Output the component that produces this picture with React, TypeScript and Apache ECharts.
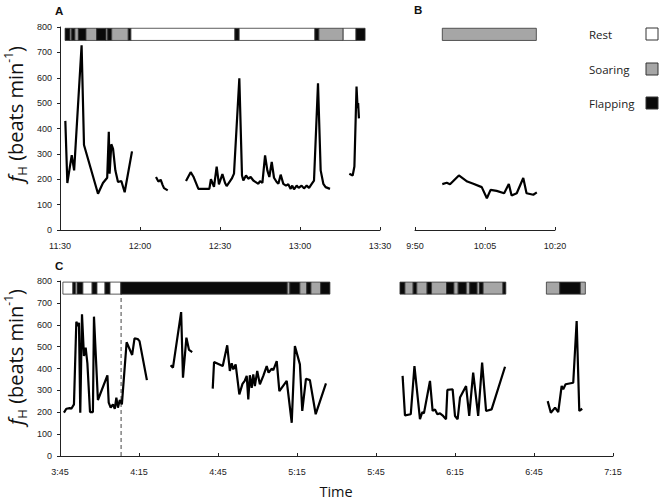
import React, { useEffect, useRef } from "react";
import * as echarts from "echarts";

// ---------- DATA ----------
// Times are minutes after the first tick of each panel; values in beats/min
const A_TICKS = ["11:30", "12:00", "12:30", "13:00", "13:30"];
const B_TICKS = ["9:50", "10:05", "10:20"];
const C_TICKS = ["3:45", "4:15", "4:45", "5:15", "5:45", "6:15", "6:45", "7:15"];
const Y_TICKS = [0, 100, 200, 300, 400, 500, 600, 700, 800];

const A_SEG1 = [[2.0,430],[2.75,185],[4.4,295],[5.3,235],[8.1,728],[9.0,335],[14.25,143],[16.1,185],[17.7,206],[18.3,387],[18.6,222],[19.25,338],[19.9,320],[20.75,235],[21.75,189],[23,193],[24.25,149],[27,310]];
const A_SEG2 = [[36,209],[36.9,191],[37.75,198],[38.5,177],[39,165],[40.4,156]];
const A_SEG3 = [[47.25,193],[49,228],[50,211],[51.9,162],[56,162],[56.6,200],[57.75,170],[58.75,250],[59.6,180],[60.9,220],[61.9,185],[62.5,173],[64.4,202],[65.25,222],[67.25,598],[68.25,215],[68.75,195],[69.75,215],[70.6,202],[71.5,209],[72.5,195],[74.4,182],[75,193],[75.9,186],[76.9,294],[77.75,235],[78.5,209],[79.4,268],[80.25,206],[81.25,189],[81.9,182],[82.75,218],[83.75,182],[84.75,175],[85.6,180],[86.5,162],[87.1,175],[87.75,160],[88.75,175],[89.5,166],[90.6,175],[91.5,164],[92.5,175],[93.4,166],[94.4,182],[95.25,195],[96.75,578],[97.75,235],[98.75,182],[99.6,169],[101.25,162]];
const A_SEG4 = [[108.5,222],[109.75,215],[110.4,250],[111.2,565],[111.6,480],[111.8,500],[112.1,440]];

const B_SEG1 = [[5.85,181],[6.8,186],[7.5,180],[9.4,215],[11.2,191],[12.5,182],[14.3,169],[15.4,125],[16.2,158],[17.5,154],[19.1,145],[20.1,181],[20.7,136],[21.8,145],[23.2,205],[23.9,145],[25.35,139],[26.1,148]];

const C_SEG1 = [[1.5,198],[2.4,216],[3.7,219],[4.3,216],[5.3,236],[6.2,614],[6.8,594],[7.2,609],[7.7,198],[8.35,648],[9.1,457],[9.75,495],[10.4,424],[11.4,201],[12.5,201],[12.9,637],[14.4,256],[18,369],[18.5,244],[19.25,221],[20.1,236],[20.8,216],[21.4,267],[22,221],[22.7,256],[23.5,236],[25.3,520],[27.4,462],[28.3,538],[29.5,535],[30.2,525],[33,347]];
const C_SEG2 = [[42,415],[42.9,404],[46,658],[46.7,358],[48,541],[49,485],[50.2,475]];
const C_SEG3 = [[58,308],[58.5,430],[61.8,411],[63.5,506],[64.5,389],[65.2,424],[65.8,396],[66.7,419],[68.1,282],[69.3,330],[70.2,345],[70.9,366],[71.5,259],[72.1,369],[72.8,312],[73.4,373],[74,320],[74.9,389],[75.9,328],[77.2,366],[78.5,411],[79.2,381],[80.4,399],[81,393],[82.3,434],[83.3,297],[86.1,343],[88,152],[89.2,503],[91.1,419],[92,206],[93.4,353],[94.9,347],[97.1,191],[101,332]];
const C_SEG4 = [[130.1,366],[131,186],[133.2,191],[134.6,411],[136.7,168],[137.6,201],[138.2,195],[140.5,343],[141.5,206],[142.4,213],[143.3,191],[144.3,195],[145.5,183],[146.6,168],[147.1,302],[149.1,305],[150,183],[151,168],[151.9,267],[154.2,320],[155.4,183],[156.9,381],[158.8,183],[160.3,427],[161.8,206],[163.9,213],[169,408]];
const C_SEG5 = [[185.2,251],[186.4,198],[188,221],[189.2,201],[190.5,320],[191.1,305],[192,328],[194.9,335],[196.2,617],[197.2,206],[198.3,216]];

// Behaviour bars: [start, end, state]  state: 0 Rest, 1 Soaring, 2 Flapping
const STATES = ["Rest", "Soaring", "Flapping"];
const A_BAR = [[1.9,3.75,2],[3.75,4.4,1],[4.4,5.6,2],[5.6,6.9,1],[6.9,9.75,2],[9.75,13.75,1],[13.75,17.25,2],[17.25,17.9,1],[17.9,19.4,2],[19.4,25.6,1],[25.6,26.6,2],[26.6,65.6,0],[65.6,67.2,2],[67.2,95.6,0],[95.6,97.1,2],[97.1,106.2,1],[106.2,111,0],[111,114.4,2]];
const B_BAR = [[5.85,26.0,1]];
const C_BAR = [[1.1,4.9,0],[4.9,5.9,2],[5.9,6.5,0],[6.5,8.7,2],[8.7,12.2,0],[12.2,14.05,2],[14.05,17.1,0],[17.1,19,2],[19,23.1,0],[23.1,86.3,2],[86.3,87.3,1],[87.3,91.1,2],[91.1,93.7,1],[93.7,95.3,2],[95.3,99,1],[99,102.5,2],[129.1,131,2],[131,134.1,1],[134.1,135.5,2],[135.5,139.4,1],[139.4,141.1,2],[141.1,146.8,1],[146.8,149.6,2],[149.6,151.2,1],[151.2,154.3,2],[154.3,155.6,1],[155.6,158.4,2],[158.4,159.3,1],[159.3,160.7,2],[160.7,168.2,1],[168.2,169.3,2],[184.7,189.8,1],[189.8,197.6,2],[197.6,199.5,1]];
const C_DASH_TIME = 23.2;

// ---------- STYLE ----------
const FILL = ["#ffffff", "#a6a6a6", "#0a0a0a"];
const TICK_FONT = "Liberation Sans";
const TEXT_FONT = "Open Sans";

export default function App() {
  const ref = useRef<HTMLDivElement>(null);

  useEffect(() => {
    if (!ref.current) return;
    const chart = echarts.init(ref.current, undefined, { renderer: "svg" });

    const xAxisFor = (gridIndex: number, ticks: string[], interval: number) => ({
      type: "value",
      gridIndex,
      min: 0,
      max: interval * (ticks.length - 1),
      interval,
      axisLine: { show: true, lineStyle: { color: "#222", width: 1 } },
      axisTick: { show: true, inside: true, length: 3, lineStyle: { color: "#222" } },
      axisLabel: {
        show: true,
        margin: 11,
        fontFamily: TICK_FONT,
        fontSize: 9,
        color: "#222",
        formatter: (v: number) => ticks[Math.round(v / interval)] ?? "",
      },
      splitLine: { show: false },
    });

    const yAxisFor = (gridIndex: number, show: boolean) => ({
      type: "value",
      gridIndex,
      min: Y_TICKS[0],
      max: Y_TICKS[Y_TICKS.length - 1],
      interval: 100,
      show,
      axisLine: { show: true, lineStyle: { color: "#222", width: 1 } },
      axisTick: { show: true, inside: false, length: 3, lineStyle: { color: "#222" } },
      axisLabel: { show: true, margin: 8, fontFamily: TICK_FONT, fontSize: 9, color: "#222" },
      splitLine: { show: false },
    });

    const barSeries = (idx: number, data: number[][], top: number, bottom: number) => ({
      type: "custom",
      xAxisIndex: idx,
      yAxisIndex: idx,
      silent: true,
      z: 3,
      dimensions: ["start", "end", "state"],
      encode: { x: [0, 1], y: 2 },
      data,
      renderItem: (_p: any, api: any) => {
        const s = api.value(0);
        const e = api.value(1);
        const k = api.value(2);
        const p1 = api.coord([s, top]);
        const p2 = api.coord([e, bottom]);
        return {
          type: "rect",
          shape: { x: p1[0], y: p1[1], width: p2[0] - p1[0], height: p2[1] - p1[1] },
          style: { fill: FILL[k], stroke: "#333", lineWidth: 0.8 },
        };
      },
    });

    const lineSeries = (idx: number, data: number[][], name: string) => ({
      type: "line",
      name,
      xAxisIndex: idx,
      yAxisIndex: idx,
      data,
      showSymbol: false,
      symbol: "none",
      silent: true,
      lineStyle: { color: "#000", width: 2.2 },
      z: 2,
    });

    const yName = (x: number, y: number) => ({
      type: "text",
      x,
      y,
      rotation: Math.PI / 2,
      style: {
        text: "{f|f}{sub|H}{n| (beats min}{sup|-1}{n|)}",
        align: "center",
        verticalAlign: "middle",
        fill: "#111",
        rich: {
          f: { fontFamily: TEXT_FONT, fontSize: 20, fontStyle: "italic", lineHeight: 26, verticalAlign: "middle", fill: "#111" },
          n: { fontFamily: TEXT_FONT, fontSize: 20, lineHeight: 26, verticalAlign: "middle", fill: "#111" },
          sub: { fontFamily: TEXT_FONT, fontSize: 13, lineHeight: 13, verticalAlign: "bottom", fill: "#111" },
          sup: { fontFamily: TEXT_FONT, fontSize: 12, lineHeight: 12, verticalAlign: "top", fill: "#111" },
        },
      },
    });

    const legendItems: any[] = [];
    const legendY = [34, 69, 103];
    STATES.forEach((s, i) => {
      legendItems.push({
        type: "text",
        x: 589,
        y: legendY[i],
        style: { text: s, fontFamily: TEXT_FONT, fontSize: 11.5, fill: "#222", align: "left", verticalAlign: "middle" },
      });
      legendItems.push({
        type: "rect",
        shape: { x: 646, y: legendY[i] - 6, width: 12, height: 12 },
        style: { fill: FILL[i], stroke: "#333", lineWidth: 1 },
      });
    });

    const option: any = {
      animation: false,
      grid: [
        { left: 60, top: 27, width: 320, height: 203 },
        { left: 415, top: 27, width: 140, height: 203 },
        { left: 60, top: 281, width: 553, height: 175 },
      ],
      xAxis: [xAxisFor(0, A_TICKS, 30), xAxisFor(1, B_TICKS, 15), xAxisFor(2, C_TICKS, 30)],
      yAxis: [yAxisFor(0, true), yAxisFor(1, false), yAxisFor(2, true)],
      series: [
        lineSeries(0, A_SEG1, "A1"),
        lineSeries(0, A_SEG2, "A2"),
        lineSeries(0, A_SEG3, "A3"),
        lineSeries(0, A_SEG4, "A4"),
        lineSeries(1, B_SEG1, "B1"),
        lineSeries(2, C_SEG1, "C1"),
        lineSeries(2, C_SEG2, "C2"),
        lineSeries(2, C_SEG3, "C3"),
        lineSeries(2, C_SEG4, "C4"),
        lineSeries(2, C_SEG5, "C5"),
        {
          type: "line",
          xAxisIndex: 2,
          yAxisIndex: 2,
          data: [[C_DASH_TIME, 0], [C_DASH_TIME, 740]],
          showSymbol: false,
          symbol: "none",
          silent: true,
          lineStyle: { color: "#444", width: 1, type: [4, 3] },
          z: 1,
        },
        barSeries(0, A_BAR, 795, 747),
        barSeries(1, B_BAR, 795, 747),
        barSeries(2, C_BAR, 795, 740),
      ],
      graphic: [
        { type: "text", x: 55, y: 10.5, style: { text: "A", fontFamily: TICK_FONT, fontWeight: "bold", fontSize: 11.5, fill: "#111", verticalAlign: "middle" } },
        { type: "text", x: 414, y: 9.5, style: { text: "B", fontFamily: TICK_FONT, fontWeight: "bold", fontSize: 11.5, fill: "#111", verticalAlign: "middle" } },
        { type: "text", x: 55, y: 266, style: { text: "C", fontFamily: TICK_FONT, fontWeight: "bold", fontSize: 11.5, fill: "#111", verticalAlign: "middle" } },
        yName(15, 114),
        yName(15, 357),
        { type: "text", x: 336, y: 491, style: { text: "Time", fontFamily: TEXT_FONT, fontSize: 14.5, fill: "#111", align: "center", verticalAlign: "middle" } },
        ...legendItems,
      ],
    };

    chart.setOption(option);
    return () => chart.dispose();
  }, []);

  return (
    <div
      ref={ref}
      style={{ position: "fixed", left: 0, top: 0, width: 662, height: 499, background: "#fff" }}
    />
  );
}
